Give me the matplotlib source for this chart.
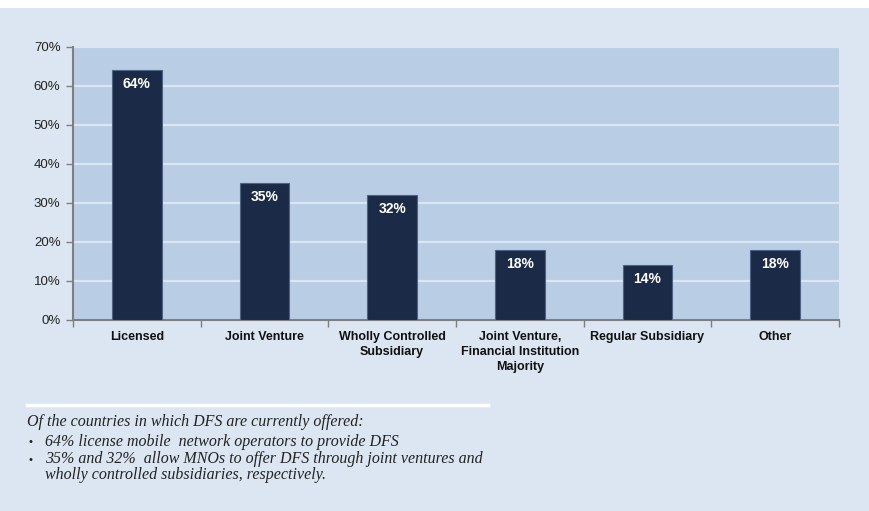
import matplotlib
matplotlib.use("Agg")
import matplotlib.pyplot as plt
from matplotlib.patches import Rectangle
from matplotlib.ticker import FuncFormatter

# Share of countries by regulatory model for digital financial services
categories = ["Licensed", "Joint Venture", "Wholly Controlled\nSubsidiary",
              "Joint Venture,\nFinancial Institution\nMajority",
              "Regular Subsidiary", "Other"]
values = [64, 35, 32, 18, 14, 18]
value_labels = ["64%", "35%", "32%", "18%", "14%", "18%"]
y_ticks = [0, 10, 20, 30, 40, 50, 60, 70]

note_heading = "Of the countries in which DFS are currently offered:"
note_bullets = [
    "64% license mobile  network operators to provide DFS",
    "35% and 32%  allow MNOs to offer DFS through joint ventures and\nwholly controlled subsidiaries, respectively.",
]

W, H = 869, 511
fig = plt.figure(figsize=(W / 100, H / 100), dpi=100)
fig.patch.set_facecolor("white")

# light blue panel below a thin white strip
fig.patches.append(Rectangle((0, 0), 1, 1 - 8 / H, transform=fig.transFigure,
                             facecolor="#DCE6F2", edgecolor="none", zorder=-10))

ax = fig.add_axes([73 / W, 1 - 320 / H, (839 - 73) / W, (320 - 46.5) / H])
ax.set_facecolor("#B9CDE5")

x = list(range(len(categories)))
bars = ax.bar(x, values, width=0.39, color="#1B2A47", edgecolor="#4E6384",
              linewidth=0.8, zorder=3)

for xi, v, lab in zip(x, values, value_labels):
    ax.annotate(lab, (xi, v), xytext=(0, -14), textcoords="offset pixels",
                ha="center", va="center", color="white", fontsize=10,
                fontweight="bold", family="Liberation Sans", zorder=4)

ax.set_xlim(-0.5, len(categories) - 0.5)
ax.set_ylim(0, 70)
ax.set_yticks(y_ticks)
ax.yaxis.set_major_formatter(FuncFormatter(lambda v, p: f"{v:.0f}%"))
ax.grid(axis="y", color="#DCE6F2", linewidth=1.6, zorder=1)
ax.set_axisbelow(True)

# category labels centred, tick marks at category boundaries
ax.set_xticks(x)
ax.set_xticklabels(categories, fontsize=9, fontweight="bold",
                   family="Liberation Sans", color="#111111",
                   linespacing=1.3, va="top")
ax.tick_params(axis="x", which="major", length=0, pad=8)
ax.set_xticks([i + 0.5 for i in range(-1, len(categories))], minor=True)
ax.tick_params(axis="x", which="minor", length=5, width=1, color="#7F7F7F",
               direction="out")
ax.tick_params(axis="y", length=5, width=1, color="#7F7F7F", pad=4,
               labelsize=9.5, labelcolor="#222222")
for lab in ax.get_yticklabels():
    lab.set_family("Liberation Sans")

for s in ["top", "right"]:
    ax.spines[s].set_visible(False)
for s in ["left", "bottom"]:
    ax.spines[s].set_color("#7F7F7F")
    ax.spines[s].set_linewidth(1.5)

# notes beneath the chart
fig.add_artist(plt.Line2D([27 / W, 488 / W], [1 - 405 / H, 1 - 405 / H],
                          transform=fig.transFigure, color="white", linewidth=2.5))
note_font = dict(family="Liberation Serif", style="italic", fontsize=11.5,
                 color="#222222", va="center")
fig.text(27 / W, 1 - 422 / H, note_heading, ha="left", **note_font)
fig.text(28 / W, 1 - 442 / H, "\u2022", ha="left", family="Liberation Sans",
         fontsize=8, color="#222222", va="center")
fig.text(45 / W, 1 - 442 / H, note_bullets[0], ha="left", **note_font)
fig.text(28 / W, 1 - 460 / H, "\u2022", ha="left", family="Liberation Sans",
         fontsize=8, color="#222222", va="center")
fig.text(45 / W, 1 - 467 / H, note_bullets[1], ha="left", linespacing=1.05,
         **note_font)

fig.savefig("out.png", dpi=100)
